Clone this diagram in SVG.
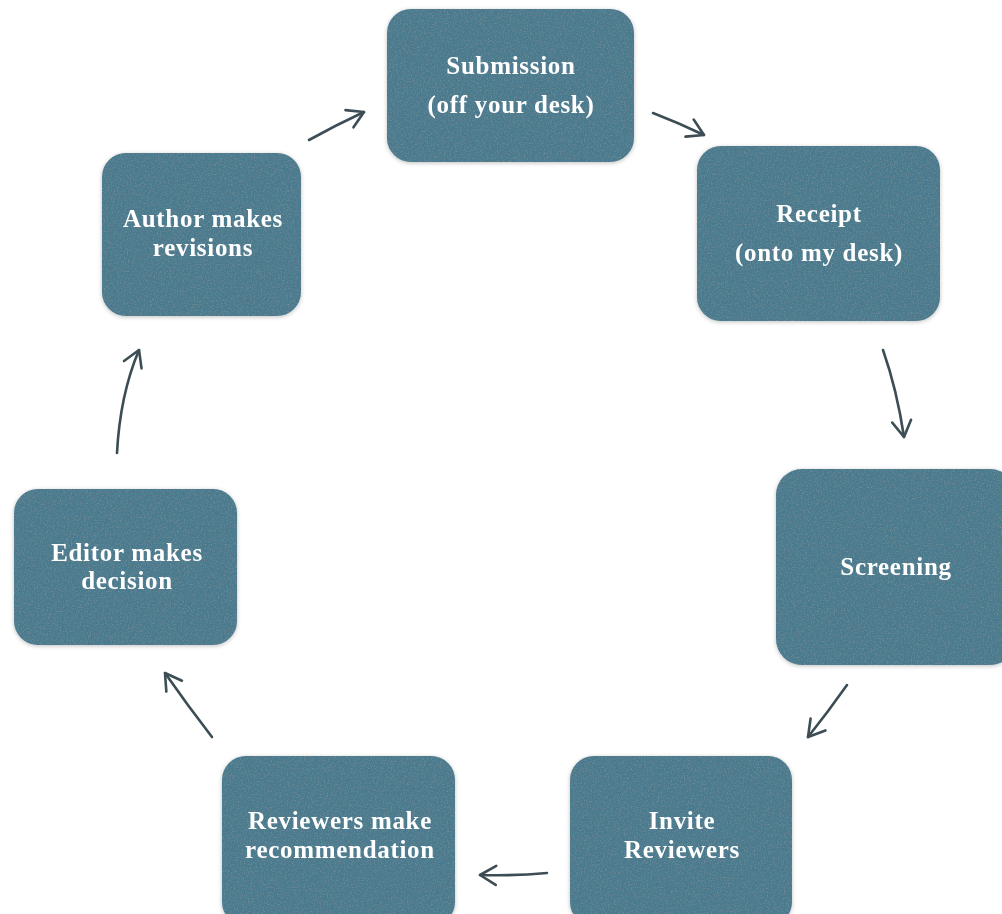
<svg xmlns="http://www.w3.org/2000/svg" width="1002" height="914" viewBox="0 0 1002 914">
<defs>
<style>
.box{fill:#4a7a8e;}
.lbl{font-family:"Liberation Serif","Times New Roman",serif;font-weight:bold;font-size:25px;letter-spacing:0.7px;fill:#ffffff;text-anchor:middle;}
.arr{fill:none;stroke:#3d4d55;stroke-width:2.6;stroke-linecap:round;marker-end:url(#ah);}
</style>
<filter id="tex" x="0" y="0" width="1" height="1">
<feTurbulence type="fractalNoise" baseFrequency="0.7" numOctaves="3" seed="4" result="n"/>
<feColorMatrix in="n" type="matrix" values="0 0 0 0 0.15  0 0 0 0 0.25  0 0 0 0 0.3  0 0 0 -3 1.6" result="d"/>
<feComposite in="d" in2="SourceGraphic" operator="in" result="d2"/>
<feMerge><feMergeNode in="SourceGraphic"/><feMergeNode in="d2"/></feMerge>
</filter>
<filter id="sh" x="-10%" y="-10%" width="120%" height="120%">
<feGaussianBlur in="SourceAlpha" stdDeviation="2"/>
<feOffset dx="0" dy="1" result="b"/>
<feFlood flood-color="#000" flood-opacity="0.25"/>
<feComposite in2="b" operator="in"/>
<feMerge><feMergeNode/><feMergeNode in="SourceGraphic"/></feMerge>
</filter>
<marker id="ah" viewBox="0 0 24 24" refX="21" refY="12" markerWidth="24" markerHeight="24" markerUnits="userSpaceOnUse" orient="auto">
<path d="M5,2.5 L21,12 L5,21.5" fill="none" stroke="#3d4d55" stroke-width="2.6" stroke-linecap="round" stroke-linejoin="round"/>
</marker>
</defs>
<rect width="1002" height="914" fill="#ffffff"/>
<g id="connectors">
<path class="arr" d="M309,140 Q336,125 364,112"/>
<path class="arr" d="M653,113 Q679,123 704,135"/>
<path class="arr" d="M883,350 Q897,390 904,437"/>
<path class="arr" d="M847,685 Q828,712 808,737"/>
<path class="arr" d="M547,873 Q514,876 480,875"/>
<path class="arr" d="M212,737 Q188,706 165,673"/>
<path class="arr" d="M117,453 Q120,395 139,350"/>
</g>
<g id="submission" filter="url(#sh)">
<rect class="box" x="387" y="9" width="247" height="153" rx="24" filter="url(#tex)"/>
<text class="lbl" x="511" y="74">Submission</text>
<text class="lbl" x="511" y="113">(off your desk)</text>
</g>
<g id="receipt" filter="url(#sh)">
<rect class="box" x="697" y="146" width="243" height="175" rx="24" filter="url(#tex)"/>
<text class="lbl" x="819" y="222">Receipt</text>
<text class="lbl" x="819" y="261">(onto my desk)</text>
</g>
<g id="screening" filter="url(#sh)">
<rect class="box" x="776" y="469" width="240" height="196" rx="26" filter="url(#tex)"/>
<text class="lbl" x="896" y="575">Screening</text>
</g>
<g id="invite" filter="url(#sh)">
<rect class="box" x="570" y="756" width="222" height="170" rx="24" filter="url(#tex)"/>
<text class="lbl" x="682" y="829">Invite</text>
<text class="lbl" x="682" y="858">Reviewers</text>
</g>
<g id="recommend" filter="url(#sh)">
<rect class="box" x="222" y="756" width="233" height="170" rx="24" filter="url(#tex)"/>
<text class="lbl" x="340" y="829">Reviewers make</text>
<text class="lbl" x="340" y="858">recommendation</text>
</g>
<g id="decision" filter="url(#sh)">
<rect class="box" x="14" y="489" width="223" height="156" rx="24" filter="url(#tex)"/>
<text class="lbl" x="127" y="561">Editor makes</text>
<text class="lbl" x="127" y="589">decision</text>
</g>
<g id="revisions" filter="url(#sh)">
<rect class="box" x="102" y="153" width="199" height="163" rx="24" filter="url(#tex)"/>
<text class="lbl" x="203" y="227">Author makes</text>
<text class="lbl" x="203" y="256">revisions</text>
</g>
</svg>
